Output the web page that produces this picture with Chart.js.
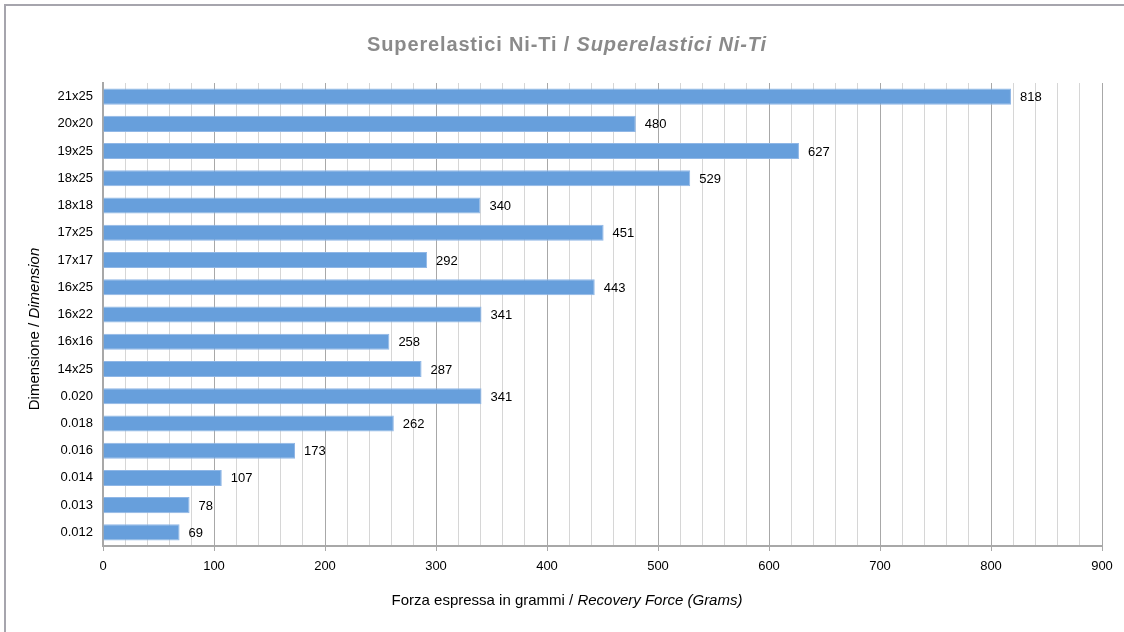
<!DOCTYPE html>
<html lang="it">
<head>
  <meta charset="UTF-8">
  <title>Superelastici Ni-Ti</title>
  <script src="https://cdn.jsdelivr.net/npm/chart.js"></script>
  <style>
    html, body { margin: 0; padding: 0; background: #fff; overflow: hidden; }
    #wrap { position: relative; width: 1124px; height: 632px; }
    #frame {
      position: absolute; left: 4px; top: 4px; width: 1200px; height: 700px;
      border-left: 2px solid #a6a5ad; border-top: 2px solid #a6a5ad;
    }
    canvas { position: absolute; left: 0; top: 0; }
  </style>
</head>
<body>
  <div id="wrap">
    <div id="frame"></div>
    <canvas id="forceChart" width="1124" height="632"></canvas>
  </div>

  <script>
    const dimensions = ['21x25', '20x20', '19x25', '18x25', '18x18', '17x25', '17x17', '16x25',
                        '16x22', '16x16', '14x25', '0.020', '0.018', '0.016', '0.014', '0.013', '0.012'];
    const forces = [818, 480, 627, 529, 340, 451, 292, 443, 341, 258, 287, 341, 262, 173, 107, 78, 69];

    const FONT = "'Liberation Sans', Arial, Helvetica, sans-serif";

    // draws a two-part string, second part in italics, centered on cx
    function mixedText(ctx, plain, italic, cx, cy, size, weight, color, spacing) {
      ctx.letterSpacing = (spacing || 0) + 'px';
      const f1 = `${weight} ${size}px ${FONT}`;
      const f2 = `italic ${weight} ${size}px ${FONT}`;
      ctx.font = f1;
      const w1 = ctx.measureText(plain).width;
      ctx.font = f2;
      const w2 = ctx.measureText(italic).width;
      const x0 = cx - (w1 + w2) / 2;
      ctx.fillStyle = color;
      ctx.textBaseline = 'middle';
      ctx.textAlign = 'left';
      ctx.font = f1;
      ctx.fillText(plain, x0, cy);
      ctx.font = f2;
      ctx.fillText(italic, x0 + w1, cy);
      ctx.letterSpacing = '0px';
    }

    const titlesPlugin = {
      id: 'titles',
      afterDraw(chart) {
        const ctx = chart.ctx;
        ctx.save();
        mixedText(ctx, 'Superelastici Ni-Ti / ', 'Superelastici Ni-Ti', 567, 45, 20, 'bold', '#8a8a8a', 0.85);
        mixedText(ctx, 'Forza espressa in grammi / ', 'Recovery Force (Grams)', 567, 601, 15, 'normal', '#000');
        ctx.translate(35, 329);
        ctx.rotate(-Math.PI / 2);
        mixedText(ctx, 'Dimensione / ', 'Dimension', 0, 0, 15, 'normal', '#000');
        ctx.restore();
      }
    };

    const valueLabels = {
      id: 'valueLabels',
      afterDatasetsDraw(chart) {
        const ctx = chart.ctx;
        const meta = chart.getDatasetMeta(0);
        ctx.save();
        ctx.font = `13px ${FONT}`;
        ctx.fillStyle = '#000';
        ctx.textAlign = 'left';
        ctx.textBaseline = 'middle';
        meta.data.forEach((bar, i) => {
          ctx.fillText(String(forces[i]), bar.x + 9, bar.y + 1);
        });
        ctx.restore();
      }
    };

    new Chart(document.getElementById('forceChart'), {
      type: 'bar',
      data: {
        labels: dimensions,
        datasets: [{
          data: forces,
          backgroundColor: '#679fdc',
          borderColor: '#90b7e6',
          borderWidth: 1,
          barPercentage: 0.59,
          categoryPercentage: 1
        }]
      },
      options: {
        indexAxis: 'y',
        responsive: false,
        devicePixelRatio: 1,
        animation: false,
        layout: { padding: { left: 0, top: 83, right: 22, bottom: 0 } },
        plugins: {
          legend: { display: false },
          tooltip: { enabled: false }
        },
        scales: {
          x: {
            min: 0,
            max: 900,
            afterFit(scale) { scale.height = 86; },
            ticks: {
              stepSize: 20,
              autoSkip: false,
              maxRotation: 0,
              padding: 8,
              color: '#000',
              font: { family: FONT, size: 13 },
              callback: v => (v % 100 === 0 ? v : '')
            },
            grid: {
              color: ctx => (ctx.tick && ctx.tick.value % 100 === 0 ? '#a8a8a8' : '#d6d6d6'),
              tickColor: ctx => (ctx.tick && ctx.tick.value % 100 === 0 ? '#a8a8a8' : 'rgba(0,0,0,0)'),
              tickLength: 5,
              lineWidth: 1
            },
            border: { display: true, color: '#a8a8a8', width: 2 }
          },
          y: {
            afterFit(scale) { scale.width = 103; },
            ticks: {
              color: '#000',
              padding: 2,
              font: { family: FONT, size: 13 }
            },
            grid: { display: false },
            border: { display: true, color: '#a8a8a8', width: 2 }
          }
        }
      },
      plugins: [titlesPlugin, valueLabels]
    });
  </script>
</body>
</html>
